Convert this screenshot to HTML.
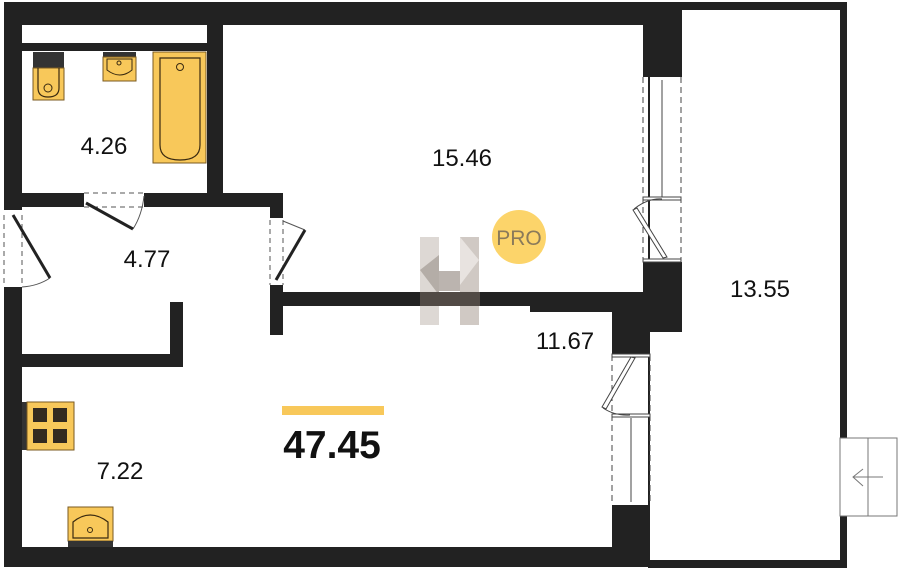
<!DOCTYPE html>
<html><head><meta charset="utf-8"><style>
html,body{margin:0;padding:0;background:#fff;width:900px;height:571px;overflow:hidden}
svg{display:block}
text{font-family:"Liberation Sans",sans-serif;fill:#111}
</style></head><body>
<svg width="900" height="571" viewBox="0 0 900 571" xmlns="http://www.w3.org/2000/svg">
<g fill="#222">
<rect x="648" y="2" width="199" height="566"/>
</g>
<rect x="650" y="10" width="190" height="550" fill="#fff"/>
<g fill="#222">
<rect x="4" y="2" width="678" height="23"/>
<rect x="4" y="2" width="18" height="208"/>
<rect x="4" y="287" width="18" height="280"/>
<rect x="22" y="43" width="188" height="8"/>
<rect x="207" y="25" width="16" height="182"/>
<rect x="22" y="193" width="62" height="14"/>
<rect x="144" y="193" width="139" height="14"/>
<rect x="270" y="193" width="13" height="25"/>
<rect x="643" y="2" width="39" height="75"/>
<rect x="643" y="262" width="39" height="70"/>
<rect x="612" y="292" width="38" height="63"/>
<rect x="612" y="505" width="38" height="45"/>
<rect x="270" y="285" width="13" height="50"/>
<rect x="283" y="292" width="362" height="14"/>
<rect x="530" y="292" width="90" height="20"/>
<rect x="22" y="354" width="161" height="13"/>
<rect x="170" y="302" width="13" height="65"/>
<rect x="4" y="547" width="646" height="20"/>
</g>
<rect x="22" y="25" width="185" height="18" fill="#fff"/>
<g stroke="#444" stroke-width="1" fill="none">
<line x1="643" y1="77" x2="643" y2="262" stroke-dasharray="6,4"/>
<line x1="681" y1="77" x2="681" y2="262" stroke-dasharray="6,4"/>
<line x1="662" y1="80" x2="662" y2="197"/>
<rect x="643" y="197" width="38" height="3" fill="#fff"/>
<rect x="643" y="259" width="38" height="3" fill="#fff"/>
<path d="M663,258 L633,210 L637,208 L667,257 Z" fill="#fff"/>
<path d="M634,209 Q648,198 662,199"/>
<line x1="612" y1="355" x2="612" y2="505" stroke-dasharray="6,4"/>
<line x1="650" y1="355" x2="650" y2="505" stroke-dasharray="6,4"/>
<line x1="631" y1="418" x2="631" y2="502"/>
<rect x="612" y="354" width="38" height="3" fill="#fff"/>
<rect x="612" y="414" width="38" height="3" fill="#fff"/>
<path d="M631,357 L602,407 L606,409 L635,358 Z" fill="#fff"/>
<path d="M603,408 Q615,416 630,415"/>
</g>
<g stroke="#555" stroke-width="1" fill="none">
<line x1="84" y1="193" x2="144" y2="193" stroke-dasharray="5,4"/>
<line x1="84" y1="207" x2="144" y2="207" stroke-dasharray="5,4"/>
<path d="M133,229 Q142,215 144,196"/>
<line x1="4" y1="215" x2="4" y2="287" stroke-dasharray="5,4"/>
<line x1="22" y1="215" x2="22" y2="287" stroke-dasharray="5,4"/>
<path d="M22,287 Q38,286 50,278"/>
<line x1="270" y1="220" x2="270" y2="285" stroke-dasharray="5,4"/>
<line x1="283" y1="220" x2="283" y2="285" stroke-dasharray="5,4"/>
<path d="M283,221 Q300,228 305,230"/>
</g>
<g stroke="#222" stroke-width="3">
<line x1="86" y1="203" x2="133" y2="229"/>
<line x1="13" y1="215" x2="50" y2="278"/>
<line x1="276" y1="280" x2="305" y2="230"/>
</g>
<g stroke="#777" stroke-width="1" fill="#fff">
<rect x="840" y="438" width="57" height="78"/>
<line x1="868" y1="438" x2="868" y2="516"/>
<line x1="853" y1="477" x2="883" y2="477"/>
<polyline points="863,469 853,477 863,486" fill="none"/>
</g>
<rect x="33" y="52" width="31" height="16" fill="#333"/>
<rect x="33" y="68" width="31" height="32" fill="#f8c85a" stroke="#7a5a20"/>
<path d="M38,68 V88 Q38,97 48,97 Q59,97 59,88 V68" fill="none" stroke="#3a2a10" stroke-width="1.2"/>
<circle cx="48" cy="88" r="4" fill="none" stroke="#3a2a10"/>
<rect x="103" y="52" width="33" height="5" fill="#333"/>
<rect x="103" y="57" width="33" height="24" fill="#f8c85a" stroke="#7a5a20"/>
<path d="M107,59 V70 Q120,80 132,70 V59 Z" fill="none" stroke="#3a2a10"/>
<circle cx="119" cy="63" r="2" fill="none" stroke="#3a2a10"/>
<rect x="153" y="52" width="53" height="111" fill="#f8c85a" stroke="#7a5a20"/>
<path d="M160,58 H200 V145 Q200,160 180,160 Q160,160 160,145 Z" fill="none" stroke="#3a2a10" stroke-width="1.2"/>
<circle cx="180" cy="67" r="3.5" fill="none" stroke="#3a2a10"/>
<rect x="22" y="402" width="5" height="48" fill="#333"/>
<rect x="27" y="402" width="47" height="48" fill="#f8c85a" stroke="#7a5a20"/>
<rect x="33" y="408" width="14" height="14" fill="#332a20"/>
<rect x="53" y="408" width="14" height="14" fill="#332a20"/>
<rect x="33" y="429" width="14" height="14" fill="#332a20"/>
<rect x="53" y="429" width="14" height="14" fill="#332a20"/>
<rect x="68" y="507" width="45" height="34" fill="#f8c85a" stroke="#7a5a20"/>
<rect x="68" y="541" width="45" height="6" fill="#333"/>
<path d="M73,538 V522 Q90,508 108,522 V538 Z" fill="none" stroke="#3a2a10" stroke-width="1.2"/>
<circle cx="90" cy="530" r="2.5" fill="none" stroke="#3a2a10"/>
<g opacity="0.85">
<rect x="420" y="237" width="19" height="88" fill="#d8d2cd"/>
<rect x="460" y="237" width="19" height="88" fill="#c8c0ba"/>
<rect x="439" y="271" width="21" height="20" fill="#b0a8a2"/>
<polygon points="420,270 439,255 439,295" fill="#a89f98"/>
<polygon points="460,237 479,260 460,285" fill="#e4dfdb"/>
<rect x="420" y="292" width="60" height="14" fill="#5a524c"/>
</g>
<circle cx="519" cy="237" r="27" fill="#fcd46a"/>
<text x="519" y="245" font-size="21" text-anchor="middle" style="fill:#8a7a5a">PRO</text>
<g font-size="24">
<text x="104" y="154" text-anchor="middle">4.26</text>
<text x="462" y="166" text-anchor="middle">15.46</text>
<text x="147" y="267" text-anchor="middle">4.77</text>
<text x="760" y="297" text-anchor="middle">13.55</text>
<text x="565" y="349" text-anchor="middle">11.67</text>
<text x="120" y="479" text-anchor="middle">7.22</text>
</g>
<rect x="282" y="406" width="102" height="9" fill="#f8c85a"/>
<text x="332" y="458" font-size="39" font-weight="bold" text-anchor="middle">47.45</text>
</svg>
</body></html>
